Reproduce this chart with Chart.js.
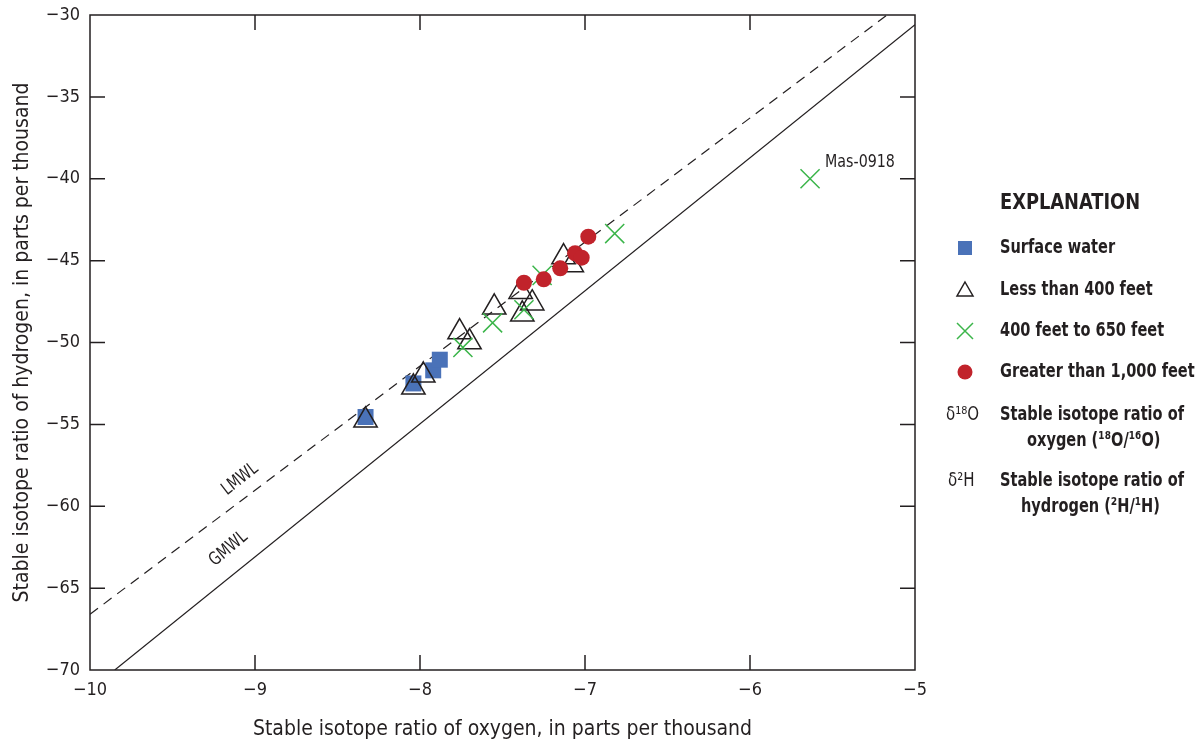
<!DOCTYPE html>
<html>
<head>
<meta charset="utf-8">
<title>Stable isotope ratios</title>
<script src="https://cdn.jsdelivr.net/npm/chart.js@4.4.1/dist/chart.umd.min.js"></script>
<style>
  body { margin: 0; background: #fff; }
  #wrap { width: 1196px; height: 742px; }
</style>
</head>
<body>
<div id="wrap"><canvas id="isoChart" width="1196" height="742"></canvas></div>
<script>
// Data (delta 18O on x, delta 2H on y, per mil)
const surfaceX = [-8.33, -8.04, -7.92, -7.88];
const surfaceY = [-54.55, -52.5, -51.7, -51.05];

const lessX = [-8.33, -8.04, -7.98, -7.76, -7.70, -7.55, -7.39, -7.32, -7.38, -7.13, -7.08];
const lessY = [-54.75, -52.74, -52.0, -49.36, -49.97, -47.85, -46.9, -47.6, -48.28, -44.78, -45.27];

const midX = [-7.74, -7.56, -7.37, -7.26, -6.82, -5.636];
const midY = [-50.3, -48.8, -48.0, -45.9, -43.35, -40.0];

const deepX = [-7.37, -7.25, -7.15, -7.06, -7.02, -6.98];
const deepY = [-46.35, -46.14, -45.47, -44.55, -44.82, -43.54];

// meteoric water lines (end points)
const gmwlX = [-9.85, -5];
const gmwlY = [-70, -30.6];
const lmwlX = [-10, -5.17];
const lmwlY = [-66.6, -30];

const xTicks = [-10, -9, -8, -7, -6, -5];
const yTicks = [-70, -65, -60, -55, -50, -45, -40, -35, -30];

const legendItems = ["Surface water", "Less than 400 feet", "400 feet to 650 feet", "Greater than 1,000 feet"];

const BLUE = "#4a72b8";
const RED = "#c1232b";
const GREEN = "#3bb54a";
const INK = "#231f20";
const FONT = "'Liberation Sans Narrow', 'DejaVu Sans Condensed', sans-serif";

function pts(xs, ys) {
  return xs.map((x, i) => ({ x: x, y: ys[i] }));
}
function minus(v) {
  return String(v).replace("-", "\u2212");
}
// squeeze text sideways, the source uses a condensed face
function narrowText(ctx, txt, x, y, sx) {
  ctx.save();
  ctx.translate(x, y);
  ctx.scale(sx, 1);
  ctx.fillText(txt, 0, 0);
  ctx.restore();
}

// frame, inward ticks, line labels and the explanation box
const extras = {
  id: "extras",
  afterDraw(chart) {
    const ctx = chart.ctx;
    const a = chart.chartArea;
    const xs = chart.scales.x;
    const ys = chart.scales.y;
    ctx.save();
    ctx.strokeStyle = INK;
    ctx.lineWidth = 1.5;
    ctx.strokeRect(a.left, a.top, a.right - a.left, a.bottom - a.top);

    const t = 15;
    ctx.beginPath();
    xTicks.slice(1, -1).forEach(v => {
      const px = xs.getPixelForValue(v);
      ctx.moveTo(px, a.bottom); ctx.lineTo(px, a.bottom - t);
      ctx.moveTo(px, a.top); ctx.lineTo(px, a.top + t);
    });
    yTicks.slice(1, -1).forEach(v => {
      const py = ys.getPixelForValue(v);
      ctx.moveTo(a.left, py); ctx.lineTo(a.left + t, py);
      ctx.moveTo(a.right, py); ctx.lineTo(a.right - t, py);
    });
    ctx.stroke();

    // line labels
    ctx.fillStyle = INK;
    ctx.font = "18px " + FONT;
    ctx.textAlign = "center";
    ctx.textBaseline = "middle";
    ctx.save();
    ctx.translate(xs.getPixelForValue(-9.09), ys.getPixelForValue(-58.35));
    ctx.rotate(-38 * Math.PI / 180);
    narrowText(ctx, "LMWL", 0, 0, 0.85);
    ctx.restore();
    ctx.save();
    ctx.translate(xs.getPixelForValue(-9.16), ys.getPixelForValue(-62.6));
    ctx.rotate(-40 * Math.PI / 180);
    narrowText(ctx, "GMWL", 0, 0, 0.85);
    ctx.restore();

    ctx.textAlign = "left";
    narrowText(ctx, "Mas-0918", xs.getPixelForValue(midX[5]) + 15, ys.getPixelForValue(midY[5]) - 16, 0.88);

    // explanation
    ctx.font = "bold 22px " + FONT;
    narrowText(ctx, "EXPLANATION", 1000, 203, 0.9);
    ctx.font = "bold 19.5px " + FONT;
    const rowY = [248, 290, 331, 372];
    legendItems.forEach((txt, i) => {
      ctx.fillStyle = INK;
      narrowText(ctx, txt, 1000, rowY[i], 0.83);
      const sx = 965, sy = rowY[i];
      if (i === 0) {
        ctx.fillStyle = BLUE;
        ctx.fillRect(sx - 7, sy - 7, 14, 14);
      } else if (i === 1) {
        ctx.strokeStyle = INK;
        ctx.lineWidth = 1.5;
        ctx.beginPath();
        ctx.moveTo(sx, sy - 8); ctx.lineTo(sx + 8, sy + 6); ctx.lineTo(sx - 8, sy + 6);
        ctx.closePath();
        ctx.stroke();
      } else if (i === 2) {
        ctx.strokeStyle = GREEN;
        ctx.lineWidth = 1.5;
        ctx.beginPath();
        ctx.moveTo(sx - 8, sy - 8); ctx.lineTo(sx + 8, sy + 8);
        ctx.moveTo(sx + 8, sy - 8); ctx.lineTo(sx - 8, sy + 8);
        ctx.stroke();
      } else {
        ctx.fillStyle = RED;
        ctx.beginPath();
        ctx.arc(sx, sy, 7.5, 0, Math.PI * 2);
        ctx.fill();
      }
    });

    ctx.fillStyle = INK;
    ctx.font = "19px " + FONT;
    narrowText(ctx, "\u03b4\u00b9\u2078O", 946, 415, 0.88);
    narrowText(ctx, "\u03b4\u00b2H", 948, 481, 0.88);
    ctx.font = "bold 19.5px " + FONT;
    narrowText(ctx, "Stable isotope ratio of", 1000, 415, 0.83);
    narrowText(ctx, "oxygen (\u00b9\u2078O/\u00b9\u2076O)", 1027, 441, 0.83);
    narrowText(ctx, "Stable isotope ratio of", 1000, 481, 0.83);
    narrowText(ctx, "hydrogen (\u00b2H/\u00b9H)", 1021, 507, 0.83);
    ctx.restore();
  }
};

new Chart(document.getElementById("isoChart"), {
  type: "scatter",
  data: {
    datasets: [
      {
        label: "Surface water",
        data: pts(surfaceX, surfaceY),
        pointStyle: "rect",
        pointRadius: 11.3,
        backgroundColor: BLUE,
        borderWidth: 0,
        order: 4
      },
      {
        label: "Less than 400 feet",
        data: pts(lessX, lessY),
        pointStyle: "triangle",
        pointRadius: 13.5,
        backgroundColor: "rgba(0,0,0,0)",
        borderColor: INK,
        borderWidth: 1.5,
        order: 3
      },
      {
        label: "400 feet to 650 feet",
        data: pts(midX, midY),
        pointStyle: "crossRot",
        pointRadius: 13.5,
        borderColor: GREEN,
        borderWidth: 1.5,
        order: 2
      },
      {
        label: "Greater than 1,000 feet",
        data: pts(deepX, deepY),
        pointStyle: "circle",
        pointRadius: 8,
        backgroundColor: RED,
        borderWidth: 0,
        order: 1
      },
      {
        label: "LMWL",
        type: "line",
        data: pts(lmwlX, lmwlY),
        showLine: true,
        borderColor: INK,
        borderWidth: 1.2,
        borderDash: [10, 7],
        pointRadius: 0,
        order: 6
      },
      {
        label: "GMWL",
        type: "line",
        data: pts(gmwlX, gmwlY),
        showLine: true,
        borderColor: INK,
        borderWidth: 1.2,
        pointRadius: 0,
        order: 5
      }
    ]
  },
  options: {
    responsive: false,
    animation: false,
    layout: { padding: { top: 14, right: 281, left: 0, bottom: 0 } },
    plugins: {
      legend: { display: false },
      tooltip: { enabled: false }
    },
    scales: {
      x: {
        type: "linear",
        min: -10,
        max: -5,
        afterFit(s) { s.height = 72; s.paddingLeft = 0; s.paddingRight = 0; },
        afterBuildTicks(s) { s.ticks = xTicks.map(v => ({ value: v })); },
        grid: { display: false, drawTicks: false },
        border: { display: false },
        ticks: {
          padding: 10,
          color: INK,
          font: { family: FONT, size: 18 },
          callback: v => minus(v)
        },
        title: {
          display: true,
          text: "Stable isotope ratio of oxygen, in parts per thousand",
          color: INK,
          font: { family: FONT, size: 21 },
          padding: { top: 5, bottom: 0 }
        }
      },
      y: {
        type: "linear",
        min: -70,
        max: -30,
        afterFit(s) { s.width = 90; s.paddingTop = 0; s.paddingBottom = 0; },
        afterBuildTicks(s) { s.ticks = yTicks.map(v => ({ value: v })); },
        grid: { display: false, drawTicks: false },
        border: { display: false },
        ticks: {
          padding: 10,
          color: INK,
          font: { family: FONT, size: 18 },
          callback: v => minus(v)
        },
        title: {
          display: true,
          text: "Stable isotope ratio of hydrogen, in parts per thousand",
          color: INK,
          font: { family: FONT, size: 21 },
          padding: { top: 10, bottom: 0 }
        }
      }
    }
  },
  plugins: [extras]
});
</script>
</body>
</html>
